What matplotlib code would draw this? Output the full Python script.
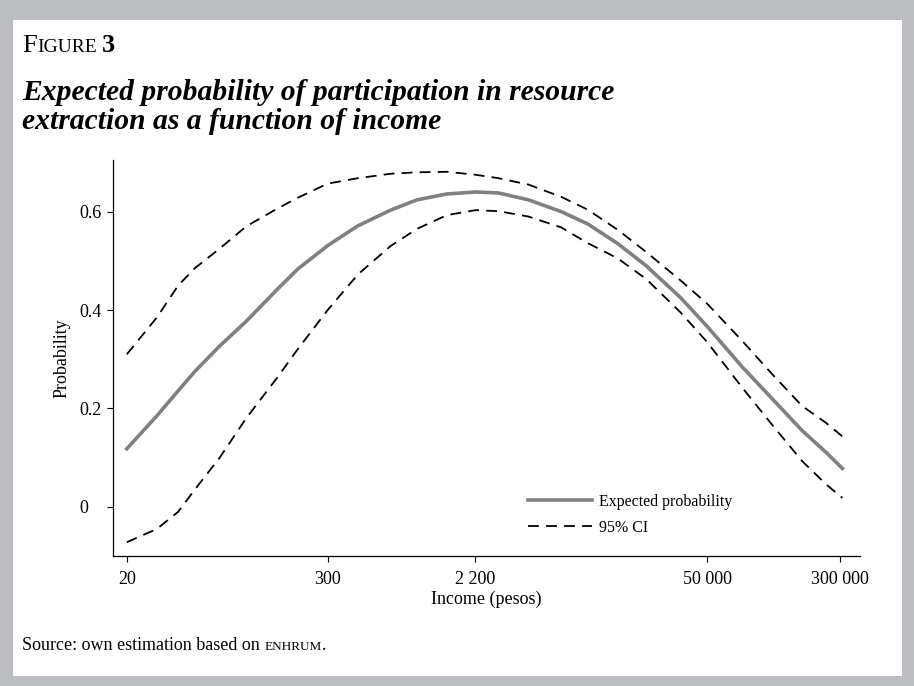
import numpy as np
import matplotlib
matplotlib.use("Agg")
import matplotlib.pyplot as plt
from matplotlib.patches import Rectangle

# income grid (pesos) and estimated curves
income = [20, 30, 40, 50, 70, 100, 150, 200, 300, 450, 700, 1000, 1500, 2200,
          3000, 4500, 7000, 10000, 15000, 22000, 35000, 50000, 80000, 120000,
          180000, 250000, 310000]
prob = [0.118, 0.185, 0.236, 0.275, 0.327, 0.377, 0.44, 0.483, 0.531, 0.571,
        0.603, 0.624, 0.636, 0.640, 0.638, 0.624, 0.600, 0.575, 0.535, 0.49,
        0.425, 0.367, 0.285, 0.22, 0.155, 0.11, 0.078]
ci_upper = [0.31, 0.385, 0.45, 0.485, 0.525, 0.57, 0.605, 0.628, 0.657, 0.668,
            0.677, 0.680, 0.681, 0.675, 0.668, 0.655, 0.630, 0.604, 0.563, 0.518,
            0.46, 0.413, 0.338, 0.27, 0.205, 0.17, 0.143]
ci_lower = [-0.072, -0.045, -0.01, 0.035, 0.10, 0.18, 0.26, 0.32, 0.40, 0.472,
            0.530, 0.565, 0.593, 0.603, 0.601, 0.59, 0.568, 0.536, 0.505, 0.463,
            0.395, 0.335, 0.243, 0.167, 0.093, 0.045, 0.018]

xticks = [20, 300, 2200, 50000, 300000]
xticklabels = ["20", "300", "2 200", "50 000", "300 000"]
yticks = [0, 0.2, 0.4, 0.6]
yticklabels = ["0", "0.2", "0.4", "0.6"]

plt.rcParams['font.family'] = ['Liberation Serif', 'DejaVu Serif']

fig = plt.figure(figsize=(9.14, 6.86), dpi=100)
fig.patch.set_facecolor('#bcbdc0')
fig.patches.append(Rectangle((13/914, 10/686), (902-13)/914, (666-10)/686,
                             transform=fig.transFigure, facecolor='white',
                             edgecolor='none', zorder=-1))

ax = fig.add_axes([113/914, 1-556/686, (860-113)/914, (556-160)/686])
ax.set_facecolor('none')

ax.plot(income, prob, color='#808080', lw=2.6, label='Expected probability', zorder=3)
ax.plot(income, ci_upper, color='black', lw=1.3, dashes=(6, 4), label='95% CI')
ax.plot(income, ci_lower, color='black', lw=1.3, dashes=(6, 4))

ax.set_xscale('log')
ax.set_xlim(16.6, 393000)
ax.set_ylim(-0.1, 0.705)
ax.set_xticks(xticks)
ax.set_xticklabels(xticklabels)
ax.minorticks_off()
ax.set_yticks(yticks)
ax.set_yticklabels(yticklabels)
for t in ax.get_yticklabels():
    t.set_horizontalalignment('left')
ax.tick_params(axis='y', length=4, width=0.8, pad=20.5, labelsize=13)
ax.tick_params(axis='x', length=4, width=0.8, pad=6.5, labelsize=13)

for s in ['top', 'right']:
    ax.spines[s].set_visible(False)
for s in ['left', 'bottom']:
    ax.spines[s].set_linewidth(0.9)

ax.set_xlabel('Income (pesos)', fontsize=13, labelpad=2)
ax.set_ylabel('Probability', fontsize=13, labelpad=6)

ax.legend(loc='upper left', bbox_to_anchor=((528-113)/747, (556-494)/396),
          frameon=False, borderpad=0, borderaxespad=0,
          fontsize=11.5, handlelength=4.0, handletextpad=0.45, labelspacing=0.6)

# heading
t1 = fig.text(22/914, 1-52/686, 'F', fontsize=19, va='baseline', ha='left')
t2 = fig.text(0, 0, 'IGURE', fontsize=14, va='baseline')
fig.canvas.draw()
r = fig.canvas.get_renderer()
bb = t1.get_window_extent(r)
t2.set_position(((bb.x1 + 0.5)/914, 1-52/686))
fig.canvas.draw()
bb2 = t2.get_window_extent(r)
fig.text((bb2.x1 + 5)/914, 1-52/686, '3', fontsize=19, fontweight='bold', va='baseline')

fig.text(22/914, 1-100/686, 'Expected probability of participation in resource',
         fontsize=21.3, fontstyle='italic', fontweight='bold', va='baseline')
fig.text(22/914, 1-129/686, 'extraction as a function of income',
         fontsize=21.3, fontstyle='italic', fontweight='bold', va='baseline')

s1 = fig.text(22/914, 1-650/686, 'Source: own estimation based on ', fontsize=13, va='baseline')
fig.canvas.draw()
bs = s1.get_window_extent(r)
s2 = fig.text(bs.x1/914, 1-650/686, 'ENHRUM', fontsize=9.5, va='baseline')
fig.canvas.draw()
bs2 = s2.get_window_extent(r)
fig.text(bs2.x1/914, 1-650/686, '.', fontsize=13, va='baseline')

fig.savefig('out.png', dpi=100, facecolor=fig.get_facecolor())
